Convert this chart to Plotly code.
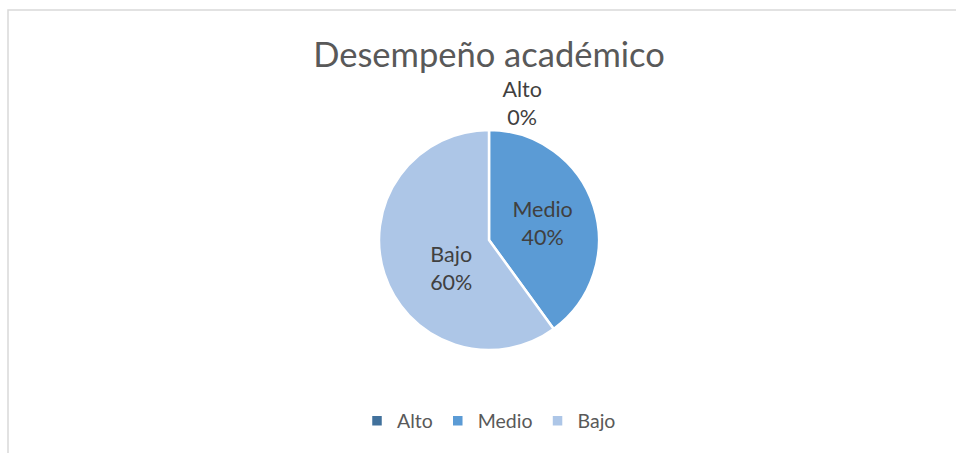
import plotly.graph_objects as go

categories = ["Alto", "Medio", "Bajo"]
values = [0, 40, 60]
colors = ["#41719C", "#5B9BD5", "#ADC6E7"]
title_text = "Desempeño académico"

W, H = 956, 453
cx, cy, r = 489, 240, 110

fig = go.Figure(go.Pie(
    labels=categories,
    values=values,
    sort=False,
    direction="clockwise",
    rotation=0,
    marker=dict(colors=colors, line=dict(color="white", width=2.5)),
    texttemplate=["%{label}<br>%{percent:.0%}",
                  "%{label}<br>%{percent:.0%}",
                  "\u00a0<br>\u00a0<br>%{label}<br>%{percent:.0%}"],
    textposition=["outside", "inside", "inside"],
    insidetextorientation="horizontal",
    textfont=dict(family="Lato", size=21.5, color="#404040"),
    outsidetextfont=dict(family="Lato", size=21.5, color="#404040"),
    insidetextfont=dict(family="Lato", size=21.5, color="#404040"),
    domain=dict(x=[(cx - r) / W, (cx + r) / W], y=[1 - (cy + r) / H, 1 - (cy - r) / H]),
    hoverinfo="label+percent",
))

fig.update_layout(
    width=W, height=H,
    margin=dict(l=0, r=0, t=0, b=0),
    paper_bgcolor="white",
    title=dict(text=title_text, x=cx / W, xanchor="center", y=1 - 55 / H, yanchor="middle",
               font=dict(family="Lato", size=34.5, color="#595959")),
    showlegend=True,
    legend=dict(orientation="h", x=cx / W, xanchor="center", y=1 - 421 / H, yanchor="middle",
                font=dict(family="Lato", size=19.5, color="#595959"), traceorder="normal",
                itemclick=False),
    shapes=[dict(type="rect", xref="paper", yref="paper",
                 x0=8 / W, x1=1.05, y0=-0.05, y1=1 - 10 / H,
                 line=dict(color="#D9D9D9", width=1.5), layer="below")],
)

fig.write_html("out.html", config={"displayModeBar": False},
               post_script="document.body.style.margin='0';document.body.style.overflow='hidden';")
